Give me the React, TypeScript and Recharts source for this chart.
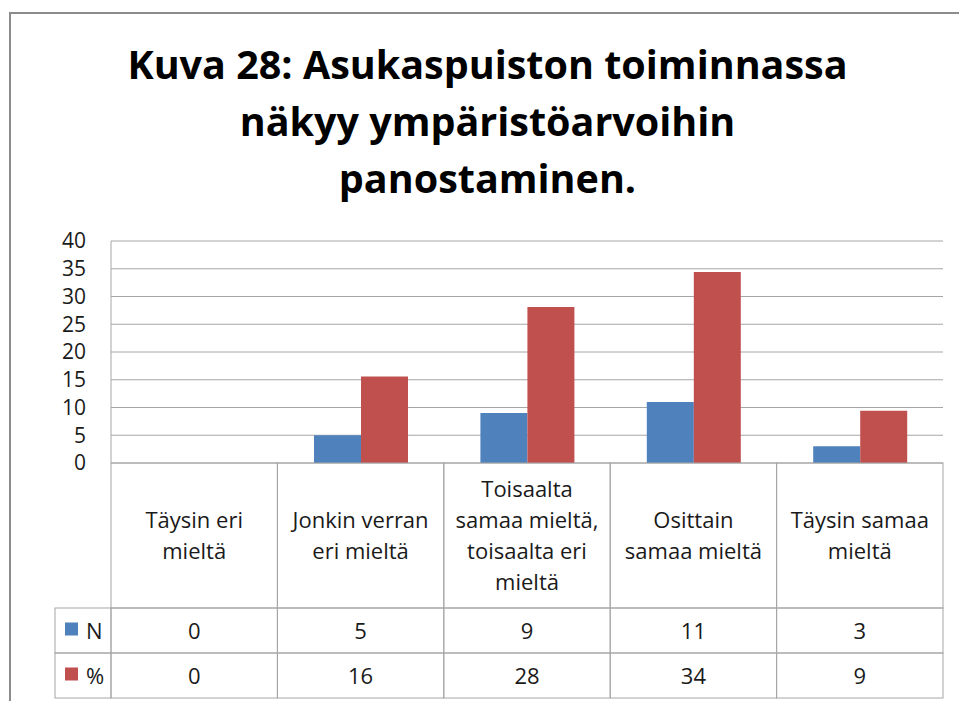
import { BarChart, Bar, XAxis, YAxis, CartesianGrid } from 'recharts'

// chart data
const categories = [
  'Täysin eri\nmieltä',
  'Jonkin verran\neri mieltä',
  'Toisaalta\nsamaa mieltä,\ntoisaalta eri\nmieltä',
  'Osittain\nsamaa mieltä',
  'Täysin samaa\nmieltä',
]
const nValues = [0, 5, 9, 11, 3]
const pctValues = [0, 15.6, 28.1, 34.4, 9.4]
const seriesNames = ['N', '%']
const yTicks = [0, 5, 10, 15, 20, 25, 30, 35, 40]
const titleLines = ['Kuva 28: Asukaspuiston toiminnassa', 'näkyy ympäristöarvoihin', 'panostaminen.']

const data = categories.map((cat, i) => ({ cat, n: nValues[i], pct: pctValues[i] }))

const W = 959
const H = 701
const PLOT = { left: 111, right: 943, top: 241, bottom: 463 }
const HEAD_H = 145
const ROW_H = 45
const LEG_LEFT = 55
const LINE = '#a6a6a6'
const TXT = '#1a1a1a'
const FONT = "'Open Sans', sans-serif"
const FS = 22
const BLUE = '#4f81bd'
const RED = '#c0504d'
const colors = [BLUE, RED]

function TableTick({ x, y, payload, index }: any) {
  const bw = (PLOT.right - PLOT.left) / categories.length
  const left = x - bw / 2
  const lines = String(payload.value).split('\n')
  const lh = 31
  const mid = y + HEAD_H / 2
  const first = mid - ((lines.length - 1) * lh) / 2 + 8
  const rows = [nValues[index], Math.round(pctValues[index])]
  return (
    <g>
      <rect x={left} y={y} width={bw} height={HEAD_H} fill="none" stroke={LINE} />
      {lines.map((l, k) => (
        <text key={k} x={x} y={first + k * lh} textAnchor="middle" fontFamily={FONT} fontSize={FS} fill={TXT}>
          {l}
        </text>
      ))}
      {rows.map((v, r) => {
        const top = y + HEAD_H + r * ROW_H
        return (
          <g key={r}>
            <rect x={left} y={top} width={bw} height={ROW_H} fill="none" stroke={LINE} />
            <text x={x} y={top + ROW_H / 2 + 8} textAnchor="middle" fontFamily={FONT} fontSize={FS} fill={TXT}>
              {v}
            </text>
          </g>
        )
      })}
      {index === 0 &&
        seriesNames.map((name, r) => {
          const top = y + HEAD_H + r * ROW_H
          return (
            <g key={name}>
              <rect x={LEG_LEFT} y={top} width={left - LEG_LEFT} height={ROW_H} fill="none" stroke={LINE} />
              <rect x={LEG_LEFT + 10} y={top + ROW_H / 2 - 8} width={13} height={13} fill={colors[r]} />
              <text x={LEG_LEFT + 31} y={top + ROW_H / 2 + 8} fontFamily={FONT} fontSize={FS} fill={TXT}>
                {name}
              </text>
            </g>
          )
        })}
    </g>
  )
}

export default function App() {
  return (
    <div style={{ position: 'fixed', left: 0, top: 0, width: W, height: H, overflow: 'hidden', background: '#fff' }}>
      <div
        style={{
          position: 'absolute',
          left: 9,
          top: 12,
          width: W,
          height: H,
          border: '2px solid #8c8c8c',
        }}
      />
      <div
        style={{
          position: 'absolute',
          left: 0,
          top: 36,
          width: 975,
          textAlign: 'center',
          fontFamily: FONT,
          fontWeight: 700,
          fontSize: 39.5,
          lineHeight: '57px',
          color: '#000',
        }}
      >
        {titleLines.map((t) => (
          <div key={t}>{t}</div>
        ))}
      </div>
      <div style={{ position: 'absolute', left: 0, top: 0 }}>
        <BarChart
          width={W}
          height={H}
          data={data}
          barCategoryGap="22%"
          barGap={0}
          margin={{ top: PLOT.top, right: W - PLOT.right, left: PLOT.left - 60, bottom: 0 }}
        >
          <CartesianGrid vertical={false} stroke={LINE} strokeWidth={1} />
          <XAxis
            dataKey="cat"
            interval={0}
            height={H - PLOT.bottom}
            tickLine={false}
            axisLine={false}
            tickSize={0}
            tickMargin={0}
            tick={(p: any) => <TableTick {...p} />}
          />
          <YAxis
            width={60}
            domain={[0, 40]}
            ticks={yTicks}
            interval={0}
            tickLine={false}
            tickSize={0}
            tickMargin={25}
            axisLine={{ stroke: LINE }}
            tick={{ fontFamily: FONT, fontSize: 21, fill: TXT }}
          />
          <Bar dataKey="n" name="N" fill={BLUE} isAnimationActive={false} />
          <Bar dataKey="pct" name="%" fill={RED} isAnimationActive={false} />
        </BarChart>
      </div>
    </div>
  )
}
